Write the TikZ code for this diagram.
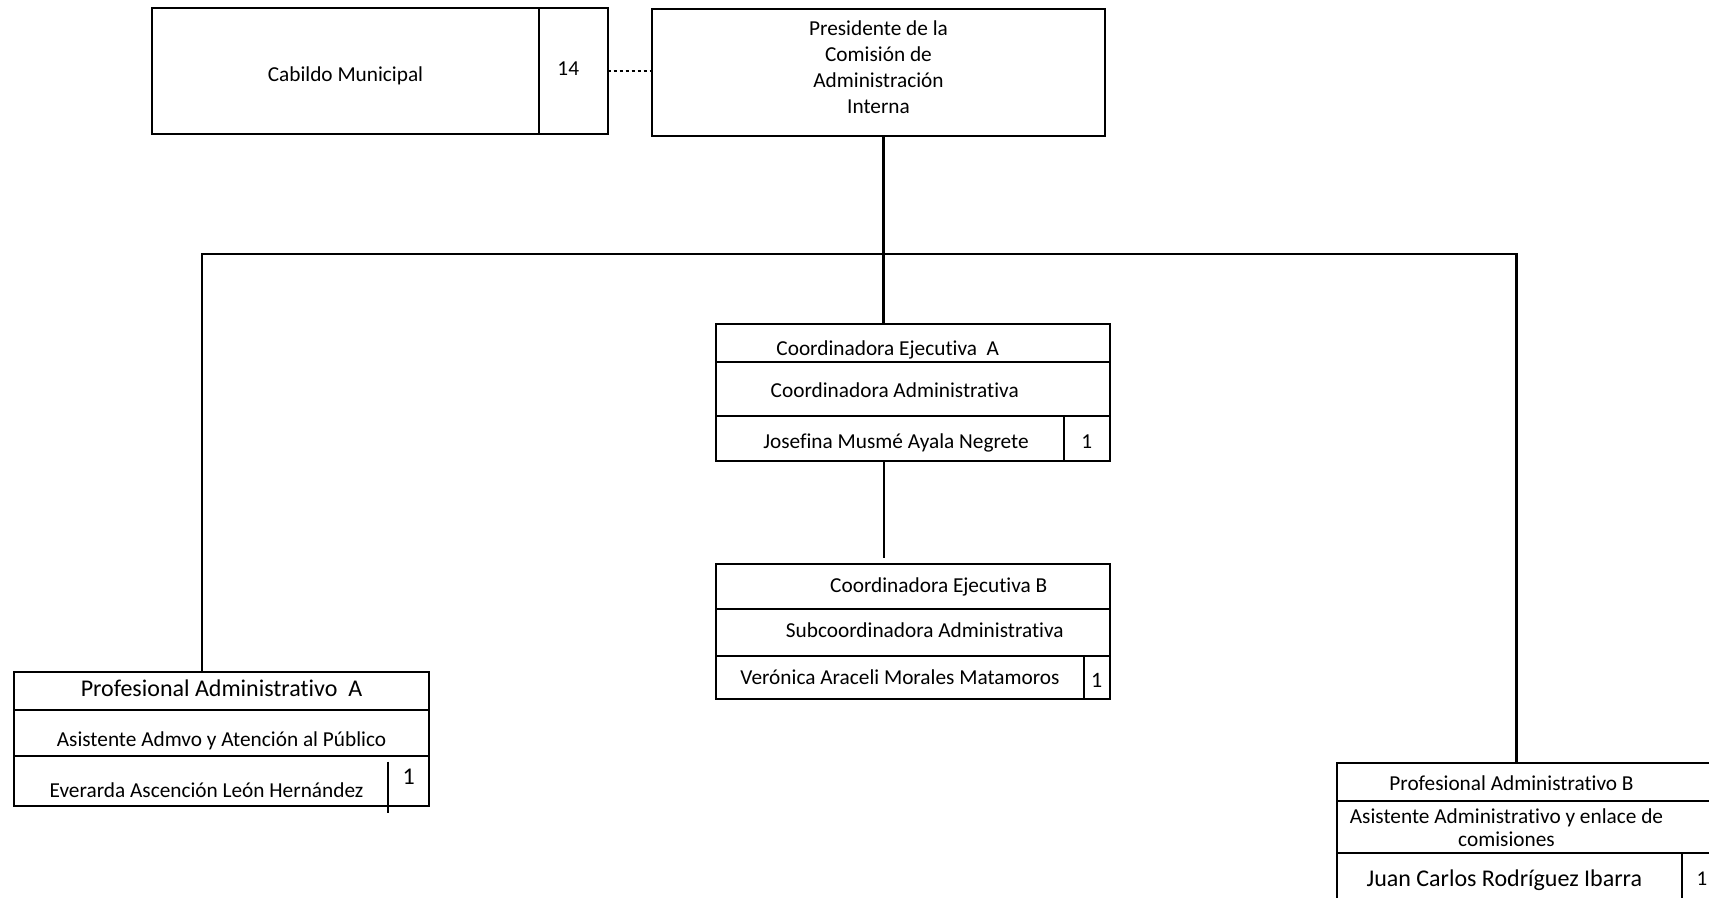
\documentclass[tikz,border=0pt]{standalone}
\usepackage{fontspec}
\setmainfont{Carlito}[Ligatures=NoCommon]
\usetikzlibrary{positioning}

\tikzset{
  cell/.style={draw, line width=1pt, outer sep=0pt, inner sep=0pt,
    text height=8pt, text depth=2.5pt,
    font=\fontsize{10.65}{13}\selectfont},
  num/.style={cell},
  big/.style={text height=9pt, text depth=2.8pt, font=\fontsize{12}{14}\selectfont},
  link/.style={line width=1.4pt},
  tl/.style={execute at end node={\hspace*{#1}}},
  tr/.style={execute at begin node={\hspace*{#1}}}
}

\begin{document}
\begin{tikzpicture}[x=0.5pt, y=-0.5pt]
    \clip (0,0) rectangle (1709,898);

    % Top row
    \node[cell, minimum width=193.5pt, minimum height=63pt, text height=13.4pt] (cab) at (345.5,71) {Cabildo Municipal};
    \node[num, minimum width=34.25pt, minimum height=63pt, tl=5pt, text height=7pt] (cabn) [right=0pt of cab] {14};
    \node[draw, line width=1pt, outer sep=0pt, inner sep=0pt, font=\fontsize{10.65}{13}\selectfont,
        minimum width=226.5pt, minimum height=63.5pt, align=center, text depth=5.4pt] (pres) at (878.5,72.5)
        {Presidente de la\\Comisión de\\Administración\\Interna};

    % Coordinadora A
    \node[cell, minimum width=196.75pt, minimum height=19pt, tl=25pt, text height=14.6pt] (ca1) at (912.75,343) {Coordinadora Ejecutiva\ \ A};
    \node[cell, minimum width=196.75pt, minimum height=27pt, tl=18pt, text height=11.3pt] (ca2) [below=0pt of ca1] {Coordinadora Administrativa};
    \node[cell, minimum width=174pt, minimum height=22.5pt, anchor=north west, tr=6pt, text height=12.4pt] (ca3) at (ca2.south west) {Josefina Musmé Ayala Negrete};
    \node[num, minimum width=22.75pt, minimum height=22.5pt, text height=13pt] (ca3n) [right=0pt of ca3] {1};

    % Coordinadora B
    \node[cell, minimum width=196.75pt, minimum height=22.5pt, tr=26pt] (cb1) at (912.75,586.5) {Coordinadora Ejecutiva B};
    \node[cell, minimum width=196.75pt, minimum height=23.25pt, tr=12pt] (cb2) [below=0pt of cb1] {Subcoordinadora Administrativa};
    \node[cell, minimum width=184pt, minimum height=21.75pt, anchor=north west, text height=10.2pt] (cb3) at (cb2.south west) {Verónica Araceli Morales Matamoros};
    \node[num, minimum width=12.75pt, minimum height=21.75pt, font=\fontsize{11}{13}\selectfont, text height=12.4pt] (cb3n) [right=0pt of cb3] {1};

    % Profesional A
    \node[cell, big, minimum width=207.5pt, minimum height=19.25pt] (pa1) at (221.5,690.75) {Profesional Administrativo\ \ A};
    \node[cell, minimum width=207.5pt, minimum height=23pt, text height=15.6pt] (pa2) [below=0pt of pa1] {Asistente Admvo y Atención al Público};
    \node[cell, minimum width=207.5pt, minimum height=25pt, tl=15pt, text height=19pt] (pa3) [below=0pt of pa2] {Everarda Ascención León Hernández};
    \node[big, inner sep=0pt] (pa3n) at (408.7,778) {1};
    \draw[line width=1pt] (388.3,761.7) -- (388.3,813.3);

    % Profesional B
    \node[cell, minimum width=192.5pt, minimum height=19pt, tl=18pt, text height=11.3pt] (pb1) at (1529.5,782) {Profesional Administrativo B};
    \node[cell, minimum width=192.5pt, minimum height=26pt, tl=23pt, text height=19.9pt, text depth=-1.9pt] (pb2) [below=0pt of pb1]
        {\def\arraystretch{0.9}\begin{tabular}[b]{@{}c@{}}Asistente Administrativo y enlace de\\comisiones\end{tabular}};
    \node[cell, big, minimum width=172.35pt, minimum height=23pt, anchor=north west, tl=5pt, text height=13.4pt] (pb3) at (pb2.south west) {Juan Carlos Rodríguez Ibarra};
    \node[num, minimum width=20.15pt, minimum height=23pt, font=\fontsize{10.5}{12}\selectfont, text height=12.4pt] (pb3n) [right=0pt of pb3] {1};

    % Lines
    \coordinate (mid) at (883.5,254);
    \coordinate (lft) at (202,254);
    \coordinate (rgt) at (1516.5,254);
    \draw[link] (pres.south -| mid) -- (ca1.north -| mid);
    \draw[link] (pa1.north -| lft) -- (lft) -- (rgt) -- (pb1.north -| rgt);
    \draw[line width=1pt, shorten >=3pt] (ca3.south -| mid) -- (cb1.north -| mid);
    \draw[link, dash pattern=on 1.5pt off 1.5pt] (cabn.east) -- (cabn.east -| pres.west);
\end{tikzpicture}
\end{document}
